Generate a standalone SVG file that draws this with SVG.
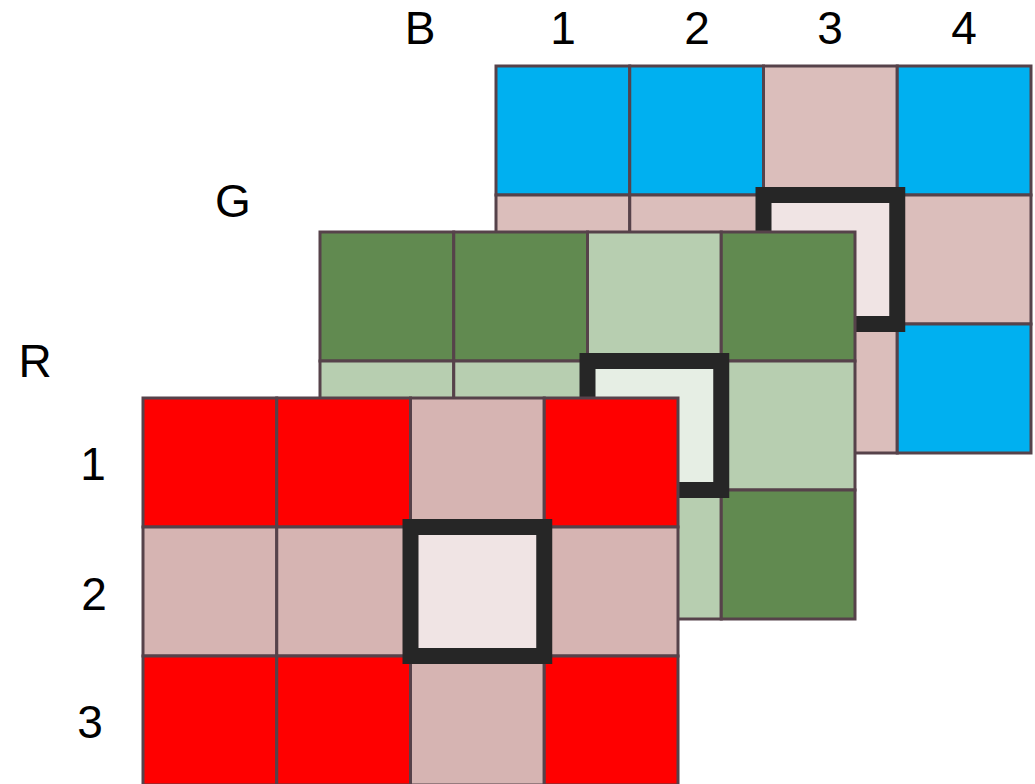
<svg xmlns="http://www.w3.org/2000/svg" width="1035" height="784" viewBox="0 0 1035 784">
<style>
.c{stroke:#56424A;stroke-width:3}
.hl{stroke:#262626;stroke-width:16}
.b{fill:#00B0F0}.bp{fill:#DBBEBB}
.gd{fill:#618A50}.gl{fill:#B7CEB0}
.r{fill:#FF0000}.rp{fill:#D6B4B2}
.lb{font-family:"Liberation Sans",Arial,sans-serif;font-size:46px;fill:#000;text-anchor:middle}
</style>
<rect width="1035" height="784" fill="#fff"/>
<g id="labels">
<text class="lb" x="420" y="44">B</text>
<text class="lb" x="563" y="44">1</text>
<text class="lb" x="697" y="44">2</text>
<text class="lb" x="830" y="44">3</text>
<text class="lb" x="964" y="44">4</text>
<text class="lb" x="233" y="217">G</text>
<text class="lb" x="35" y="377">R</text>
<text class="lb" x="93" y="480">1</text>
<text class="lb" x="94" y="610">2</text>
<text class="lb" x="90" y="738">3</text>
</g>
<g id="layer-B">
<rect class="c b" x="496" y="66" width="133.75" height="129"/>
<rect class="c b" x="629.75" y="66" width="133.75" height="129"/>
<rect class="c bp" x="763.5" y="66" width="133.75" height="129"/>
<rect class="c b" x="897.25" y="66" width="133.75" height="129"/>
<rect class="c bp" x="496" y="195" width="133.75" height="129"/>
<rect class="c bp" x="629.75" y="195" width="133.75" height="129"/>
<rect class="c bp" x="897.25" y="195" width="133.75" height="129"/>
<rect class="c b" x="496" y="324" width="133.75" height="129"/>
<rect class="c b" x="629.75" y="324" width="133.75" height="129"/>
<rect class="c bp" x="763.5" y="324" width="133.75" height="129"/>
<rect class="c b" x="897.25" y="324" width="133.75" height="129"/>
<rect class="hl" x="763.5" y="195" width="133.75" height="129" fill="#F0E4E4"/>
</g>
<g id="layer-G">
<rect class="c gd" x="320" y="232" width="133.75" height="129"/>
<rect class="c gd" x="453.75" y="232" width="133.75" height="129"/>
<rect class="c gl" x="587.5" y="232" width="133.75" height="129"/>
<rect class="c gd" x="721.25" y="232" width="133.75" height="129"/>
<rect class="c gl" x="320" y="361" width="133.75" height="129"/>
<rect class="c gl" x="453.75" y="361" width="133.75" height="129"/>
<rect class="c gl" x="721.25" y="361" width="133.75" height="129"/>
<rect class="c gd" x="320" y="490" width="133.75" height="129"/>
<rect class="c gd" x="453.75" y="490" width="133.75" height="129"/>
<rect class="c gl" x="587.5" y="490" width="133.75" height="129"/>
<rect class="c gd" x="721.25" y="490" width="133.75" height="129"/>
<rect class="hl" x="587.5" y="361" width="133.75" height="129" fill="#E6EEE4"/>
</g>
<g id="layer-R">
<rect class="c r" x="143" y="398" width="133.75" height="129"/>
<rect class="c r" x="276.75" y="398" width="133.75" height="129"/>
<rect class="c rp" x="410.5" y="398" width="133.75" height="129"/>
<rect class="c r" x="544.25" y="398" width="133.75" height="129"/>
<rect class="c rp" x="143" y="527" width="133.75" height="129"/>
<rect class="c rp" x="276.75" y="527" width="133.75" height="129"/>
<rect class="c rp" x="544.25" y="527" width="133.75" height="129"/>
<rect class="c r" x="143" y="656" width="133.75" height="129"/>
<rect class="c r" x="276.75" y="656" width="133.75" height="129"/>
<rect class="c rp" x="410.5" y="656" width="133.75" height="129"/>
<rect class="c r" x="544.25" y="656" width="133.75" height="129"/>
<rect class="hl" x="410.5" y="527" width="133.75" height="129" fill="#F0E4E4"/>
</g>
</svg>
